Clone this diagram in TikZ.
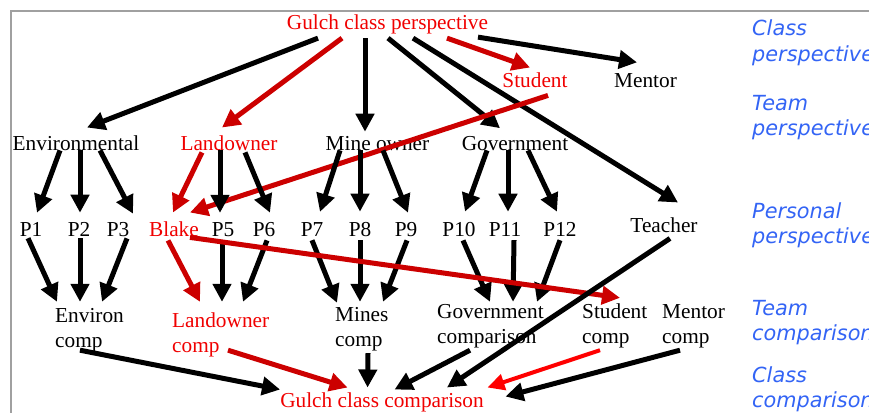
\documentclass[tikz,border=0pt]{standalone}
\usepackage{fontspec}
\setmainfont{Liberation Serif}
\newfontfamily\bluefont{DejaVu Sans}
\usetikzlibrary{arrows.meta,calc}
\definecolor{txtred}{RGB}{240,0,0}
\definecolor{arrred}{RGB}{204,0,0}
\definecolor{brightred}{RGB}{255,0,0}
\definecolor{lblblue}{RGB}{51,100,245}
\definecolor{framegray}{RGB}{160,160,160}
\newcommand{\mytwo}[2]{\begin{tabular}[t]{@{}l@{}}#1\\#2\end{tabular}}
\begin{document}
\begin{tikzpicture}[x=1pt,y=-1pt,
  lbl/.style={inner sep=0pt, font=\fontsize{21.3}{25}\selectfont, anchor=base},
  lbl2/.style={lbl, anchor=base west},
  rlbl/.style={text=txtred},
  side/.style={inner sep=0pt, anchor=base west, text=lblblue, font=\bluefont\itshape\fontsize{20.8}{25}\selectfont},
  arr/.style={line width=5pt, -{Triangle[length=18pt,width=18pt]}},
  barr/.style={arr, draw=black},
  rarr/.style={arr, draw=arrred},
  brarr/.style={line width=4pt, -{Triangle[length=17pt,width=16pt]}, draw=brightred},
]
\useasboundingbox (0,0) rectangle (869,412);
\draw[framegray, line width=2pt] (11,11) rectangle (900,450);

% nodes
\node[lbl, rlbl] (gcp) at (387.5,30) {Gulch class perspective};
\node[lbl, rlbl] (student) at (535,87) {Student};
\node[lbl] (mentor) at (645.5,87) {Mentor};
\node[lbl] (env) at (76,150) {Environmental};
\node[lbl, rlbl] (land) at (229,150) {Landowner};
\node[lbl] (mine) at (377.5,150) {Mine owner};
\node[lbl] (gov) at (515,150) {Government};
\node[lbl] (p1) at (31,236) {P1};
\node[lbl] (p2) at (79,236) {P2};
\node[lbl] (p3) at (118,236) {P3};
\node[lbl, rlbl] (blake) at (174,236) {Blake};
\node[lbl] (p5) at (223,236) {P5};
\node[lbl] (p6) at (264,236) {P6};
\node[lbl] (p7) at (312,236) {P7};
\node[lbl] (p8) at (360,236) {P8};
\node[lbl] (p9) at (406,236) {P9};
\node[lbl] (p10) at (459,236) {P10};
\node[lbl] (p11) at (505,236) {P11};
\node[lbl] (p12) at (560,236) {P12};
\node[lbl] (teacher) at (664,232) {Teacher};
\node[lbl2] (envc) at (55,322) {\mytwo{Environ}{comp}};
\node[lbl2, rlbl] (landc) at (172,327) {\mytwo{Landowner}{comp}};
\node[lbl2] (minesc) at (335,321) {\mytwo{Mines}{comp}};
\node[lbl2] (govc) at (437,318) {\mytwo{Government}{comparison}};
\node[lbl2] (studc) at (582,318) {\mytwo{Student}{comp}};
\node[lbl2] (mentc) at (662,318) {\mytwo{Mentor}{comp}};
\node[lbl, rlbl] (gcc) at (382,407) {Gulch class comparison};

% side labels
\node[side] (s1) at (752,36) {\mytwo{Class}{perspective}};
\node[side] (s2) at (752,110) {\mytwo{Team}{perspective}};
\node[side] (s3) at (752,218) {\mytwo{Personal}{perspective}};
\node[side] (s4) at (752,315) {\mytwo{Team}{comparison}};
\node[side] (s5) at (752,382) {\mytwo{Class}{comparison}};

% class perspective arrows
\draw[barr] ($(gcp.south)+(-69.5,3.4)$) -- ($(env.north)+(11,-7.5)$);
\draw[rarr] ($(gcp.south)+(-45.5,3.4)$) -- ($(land.north)+(-7,-7.5)$);
\draw[barr] ($(gcp.south)+(-22.5,3.4)$) -- ($(mine.north)+(-12.5,-4)$);
\draw[barr] ($(gcp.south)+(0.5,3.4)$) -- ($(gov.north)+(-15,-7.5)$);
\draw[barr] ($(gcp.south)+(25.5,3.4)$) -- ($(teacher.north)+(14,-14.5)$);
\draw[rarr] ($(gcp.south)+(59.5,3.4)$) -- ($(student.north)+(-5,-4.5)$);
\draw[barr] ($(gcp.south)+(90.5,2.4)$) -- ($(mentor.north)+(-8.5,-10.5)$);
\draw[rarr] ($(student.south)+(13,8)$) -- ($(blake.north)+(16,-8.5)$);

% team to personal
\draw[barr] ($(env.south)+(-16,0)$) -- ($(p1.north)+(6,-9)$);
\draw[barr] ($(env.south)+(4,0)$) -- ($(p2.north)+(1,-9)$);
\draw[barr] ($(env.south)+(24,0)$) -- ($(p3.north)+(15,-8)$);
\draw[rarr] ($(land.south)+(-27,2)$) -- ($(blake.north)+(-1,-8.5)$);
\draw[barr] ($(land.south)+(-9,0)$) -- ($(p5.north)+(-3,-9)$);
\draw[barr] ($(land.south)+(16,2)$) -- ($(p6.north)+(6,-9)$);
\draw[barr] ($(mine.south)+(-37.5,0)$) -- ($(p7.north)+(8,-10)$);
\draw[barr] ($(mine.south)+(-17.5,0)$) -- ($(p8.north)+(0,-10)$);
\draw[barr] ($(mine.south)+(5.5,0)$) -- ($(p9.north)+(2,-9)$);
\draw[barr] ($(gov.south)+(-28,0)$) -- ($(p10.north)+(6,-10)$);
\draw[barr] ($(gov.south)+(-7,0)$) -- ($(p11.north)+(3,-10)$);
\draw[barr] ($(gov.south)+(13,0)$) -- ($(p12.north)+(-3,-10)$);

% personal to team comparison
\draw[barr] ($(p1.south)+(-3,2)$) -- ($(envc.north west)+(2,-2.5)$);
\draw[barr] ($(p2.south)+(1,2)$) -- ($(envc.north west)+(25,-2.5)$);
\draw[barr] ($(p3.south)+(9,2)$) -- ($(envc.north west)+(47,-2.5)$);
\draw[rarr] ($(blake.south)+(-6,4)$) -- ($(landc.north west)+(28,-7.5)$);
\draw[barr] ($(p5.south)+(-1,4)$) -- ($(landc.north west)+(50,-7.5)$);
\draw[barr] ($(p6.south)+(3,4)$) -- ($(landc.north west)+(71,-7.5)$);
\draw[barr] ($(p7.south)+(0,4)$) -- ($(minesc.north west)+(2,-0.5)$);
\draw[barr] ($(p8.south)+(0,4)$) -- ($(minesc.north west)+(25,-1.5)$);
\draw[barr] ($(p9.south)+(1,4)$) -- ($(minesc.north west)+(48,-1.5)$);
\draw[barr] ($(p10.south)+(4,4)$) -- ($(govc.north west)+(53,1.5)$);
\draw[barr] ($(p11.south)+(9,4)$) -- ($(govc.north west)+(76,1.5)$);
\draw[barr] ($(p12.south)+(0,4)$) -- ($(govc.north west)+(100,1.5)$);
\draw[rarr] ($(blake.south)+(16,1)$) -- ($(studc.north west)+(38,-2.5)$);
\draw[barr] ($(teacher.south)+(6,6)$) -- ($(gcc.north)+(65,-4.5)$);

% team comparison to class comparison
\draw[barr] ($(envc.south west)+(25,-4.5)$) -- ($(gcc.north west)+(0,-2.5)$);
\draw[rarr] ($(landc.south west)+(56,-9.5)$) -- ($(gcc.north west)+(67.5,-4.5)$);
\draw[barr] ($(minesc.south west)+(33,-0.5)$) -- ($(gcc.north west)+(87.5,-4.5)$);
\draw[barr] ($(govc.south west)+(33,-0.5)$) -- ($(gcc.north west)+(114.5,-2.5)$);
\draw[brarr] ($(studc.south west)+(18,-0.5)$) -- ($(gcc.north east)+(3.5,-4.5)$);
\draw[barr] ($(mentc.south west)+(18,-0.5)$) -- ($(gcc.north east)+(21.5,4.5)$);
\end{tikzpicture}
\end{document}
